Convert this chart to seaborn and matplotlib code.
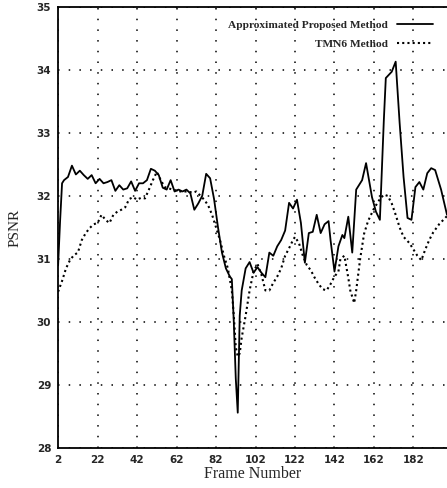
"""PSNR per frame: approximated proposed method vs TMN6."""

import matplotlib.pyplot as plt
import seaborn as sns
import pandas as pd

# frame numbers / PSNR values
proposed_frames = [2, 3, 4, 5, 7, 9, 11, 13, 15, 17, 19, 21, 23, 25, 27, 29, 31, 33,
                   35, 37, 39, 41, 43, 45, 47, 49, 51, 53, 55, 57, 59, 61, 63, 65,
                   67, 69, 71, 73, 75, 77, 79, 81, 83, 85, 87, 89, 90, 91, 92, 93,
                   94, 95, 97, 99, 101, 103, 105, 107, 109, 111, 113, 115, 117, 119,
                   121, 123, 125, 127, 129, 131, 133, 135, 137, 139, 140, 142, 144,
                   146, 147, 149, 151, 153, 156, 158, 161, 163, 165, 167, 168, 171,
                   173, 175, 177, 179, 181, 183, 185, 187, 189, 191, 193, 196, 199]
proposed_psnr = [30.9, 31.6, 32.2, 32.25, 32.3, 32.48, 32.34, 32.4, 32.33, 32.27,
                 32.33, 32.2, 32.27, 32.2, 32.22, 32.25, 32.08, 32.17, 32.1, 32.12,
                 32.23, 32.08, 32.2, 32.2, 32.25, 32.43, 32.4, 32.33, 32.13, 32.1,
                 32.25, 32.07, 32.1, 32.07, 32.1, 32.04, 31.78, 31.88, 32.0, 32.35,
                 32.28, 31.95, 31.5, 31.1, 30.85, 30.72, 30.68, 30.0, 29.1, 28.56,
                 30.1, 30.5, 30.85, 30.95, 30.78, 30.87, 30.78, 30.71, 31.1, 31.05,
                 31.2, 31.3, 31.45, 31.89, 31.8, 31.94, 31.57, 30.94, 31.41, 31.43,
                 31.7, 31.41, 31.55, 31.6, 31.3, 30.8, 31.2, 31.38, 31.33, 31.67,
                 31.1, 32.1, 32.25, 32.52, 31.98, 31.75, 31.62, 33.2, 33.87, 33.97,
                 34.13, 33.16, 32.3, 31.65, 31.62, 32.14, 32.22, 32.1, 32.36, 32.44,
                 32.41, 32.1, 31.7]

tmn6_frames = [2, 4, 6, 8, 10, 12, 14, 16, 18, 20, 22, 24, 26, 28, 30, 32, 34, 36,
               38, 40, 42, 44, 46, 48, 50, 52, 54, 56, 60, 64, 68, 70, 72, 76, 78,
               80, 82, 84, 86, 88, 90, 91, 92, 93, 94, 95, 97, 99, 101, 103, 105,
               107, 109, 111, 113, 115, 117, 119, 121, 122, 124, 126, 128, 130, 132,
               134, 136, 138, 140, 142, 144, 145, 147, 149, 150, 152, 153, 155, 157,
               159, 162, 165, 167, 169, 171, 173, 175, 177, 180, 182, 184, 186, 188,
               190, 192, 195, 199]
tmn6_psnr = [30.48, 30.65, 30.85, 30.98, 31.06, 31.1, 31.3, 31.41, 31.49, 31.55,
             31.57, 31.7, 31.62, 31.57, 31.7, 31.75, 31.78, 31.82, 31.95, 31.98,
             31.94, 31.97, 31.96, 32.1, 32.25, 32.38, 32.25, 32.14, 32.1, 32.07,
             32.07, 32.05, 32.07, 31.94, 31.85, 31.7, 31.5, 31.3, 31.05, 30.85,
             30.5, 30.1, 29.6, 29.45, 29.5, 29.75, 30.1, 30.5, 30.8, 30.92, 30.75,
             30.5, 30.5, 30.62, 30.72, 30.85, 31.05, 31.17, 31.3, 31.35, 31.25,
             31.05, 30.9, 30.82, 30.7, 30.6, 30.52, 30.5, 30.6, 30.72, 30.8, 31.0,
             31.05, 30.7, 30.5, 30.3, 30.5, 31.0, 31.4, 31.6, 31.8, 31.95, 32.02,
             32.0, 31.88, 31.7, 31.5, 31.35, 31.25, 31.15, 31.05, 30.98, 31.15,
             31.3, 31.42, 31.55, 31.68]

x_ticks = [2, 22, 42, 62, 82, 102, 122, 142, 162, 182]
y_ticks = [28, 29, 30, 31, 32, 33, 34, 35]

df_proposed = pd.DataFrame({'frame': proposed_frames, 'psnr': proposed_psnr})
df_tmn6 = pd.DataFrame({'frame': tmn6_frames, 'psnr': tmn6_psnr})

sns.set_style('white')
plt.rcParams['font.family'] = ['Liberation Serif', 'DejaVu Serif']

fig = plt.figure(figsize=(4.47, 4.88), dpi=100)
ax = fig.add_axes([0.13, 0.082, 0.87, 0.904])

sns.lineplot(data=df_proposed, x='frame', y='psnr', ax=ax, color='black',
             linewidth=1.3, label='Approximated Proposed Method')
sns.lineplot(data=df_tmn6, x='frame', y='psnr', ax=ax, color='black',
             linewidth=1.5, linestyle=(0, (1, 1.5)), label='TMN6 Method')

ax.set_xlim(2, 199)
ax.set_ylim(28, 35)
ax.set_xticks(x_ticks)
ax.set_yticks(y_ticks)
ax.tick_params(direction='in', length=4, width=1, labelsize=7.5, pad=5)
for lbl in ax.get_xticklabels() + ax.get_yticklabels():
    lbl.set_fontweight('bold')
    lbl.set_family('DejaVu Sans')

ax.grid(True, color='black', linestyle=(0, (1, 6)), linewidth=1.1)
for side in ['left', 'bottom', 'top']:
    ax.spines[side].set_color('black')
    ax.spines[side].set_linewidth(1.3)
ax.spines['right'].set_visible(False)

ax.set_xlabel('Frame Number', fontsize=11.5, labelpad=1)
ax.set_ylabel('PSNR', fontsize=11)
ax.yaxis.set_label_coords(-0.095, 0.5)

leg = ax.legend(loc='upper right', frameon=False, markerfirst=False,
                handlelength=3.2, borderaxespad=0.8, labelspacing=0.75,
                prop={'weight': 'bold', 'size': 8.2})
for t in leg.get_texts():
    t.set_ha('right')

fig.savefig('out.png', dpi=100)
plt.close(fig)
